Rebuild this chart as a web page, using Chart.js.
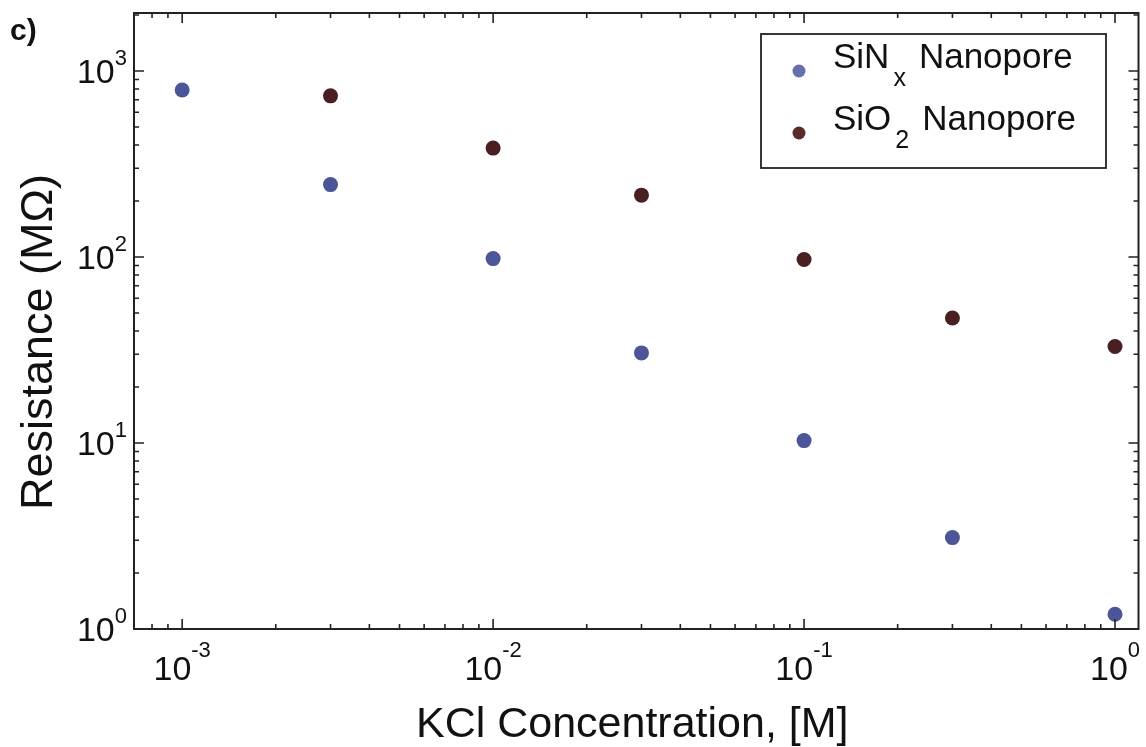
<!DOCTYPE html>
<html>
<head>
<meta charset="utf-8">
<script src="https://cdn.jsdelivr.net/npm/chart.js@4.4.0/dist/chart.umd.min.js"></script>
<style>
  body { margin: 0; background: #fff; }
  #wrap { width: 1146px; height: 747px; }
</style>
</head>
<body>
<div id="wrap"><canvas id="myChart"></canvas></div>
<script>
// KCl concentration [M] and resistance [MOhm]
const sinxConc = [0.001, 0.003, 0.01, 0.03, 0.1, 0.3, 1];
const sinxResistance = [790, 245, 98, 30.5, 10.3, 3.1, 1.2];
const sio2Conc = [0.003, 0.01, 0.03, 0.1, 0.3, 1];
const sio2Resistance = [735, 385, 215, 97, 47, 33];

const xTickValues = [0.001, 0.01, 0.1, 1];
const xTickExps = ["-3", "-2", "-1", "0"];
const yTickValues = [1, 10, 100, 1000];
const yTickExps = ["0", "1", "2", "3"];

const seriesNames = [["SiN", "x", "Nanopore"], ["SiO", "2", "Nanopore"]];
const seriesColors = ["#4b5598", "#4a1f22"];
const legendColors = ["#6770aa", "#5a2b2b"];

const FONT = '"Liberation Sans", Arial, Helvetica, sans-serif';
const INK = "#111";

function toPoints(xs, ys) {
    return xs.map((x, i) => ({ x: x, y: ys[i] }));
}

const boxAxes = {
    id: "boxAxes",
    afterDatasetsDraw(chart) {
        const ctx = chart.ctx;
        const area = chart.chartArea;
        const xs = chart.scales.x;
        const ys = chart.scales.y;

        ctx.save();
        ctx.strokeStyle = "#222";
        ctx.lineWidth = 2;
        ctx.strokeRect(area.left, area.top, area.right - area.left, area.bottom - area.top);

        // inward log ticks on all four sides
        ctx.lineWidth = 1.6;
        ctx.beginPath();
        for (let k = -4; k <= 3; k++) {
            for (let m = 1; m <= 9; m++) {
                const v = m * Math.pow(10, k);
                const len = m === 1 ? 10 : 5;
                if (v > xs.min * 1.001 && v < xs.max * 0.999) {
                    const px = xs.getPixelForValue(v);
                    ctx.moveTo(px, area.bottom); ctx.lineTo(px, area.bottom - len);
                    ctx.moveTo(px, area.top); ctx.lineTo(px, area.top + len);
                }
                if (v > ys.min * 1.001 && v < ys.max * 0.999) {
                    const py = ys.getPixelForValue(v);
                    ctx.moveTo(area.left, py); ctx.lineTo(area.left + len, py);
                    ctx.moveTo(area.right, py); ctx.lineTo(area.right - len, py);
                }
            }
        }
        ctx.stroke();

        // tick labels: 10 with superscript exponent
        ctx.fillStyle = INK;
        ctx.textBaseline = "alphabetic";
        ctx.textAlign = "left";
        for (let i = 0; i < xTickValues.length; i++) {
            const px = xs.getPixelForValue(xTickValues[i]);
            ctx.font = "34px " + FONT;
            const wBase = ctx.measureText("10").width;
            ctx.font = "22px " + FONT;
            const wExp = ctx.measureText(xTickExps[i]).width;
            const start = px - (wBase + wExp) / 2;
            ctx.font = "34px " + FONT;
            ctx.fillText("10", start, area.bottom + 51);
            ctx.font = "22px " + FONT;
            ctx.fillText(xTickExps[i], start + wBase, area.bottom + 28);
        }
        for (let i = 0; i < yTickValues.length; i++) {
            const py = ys.getPixelForValue(yTickValues[i]);
            ctx.font = "22px " + FONT;
            const wExp = ctx.measureText(yTickExps[i]).width;
            const expX = area.left - 7 - wExp;
            ctx.fillText(yTickExps[i], expX, py - 6);
            ctx.font = "34px " + FONT;
            const wBase = ctx.measureText("10").width;
            ctx.fillText("10", expX - wBase, py + 12);
        }

        // axis titles
        ctx.font = "43px " + FONT;
        ctx.textAlign = "center";
        ctx.fillText("KCl Concentration, [M]", (area.left + area.right) / 2 - 4, 737);
        ctx.save();
        ctx.translate(52, 342);
        ctx.rotate(-Math.PI / 2);
        ctx.font = "45px " + FONT;
        ctx.fillText("Resistance (MΩ)", 0, 0);
        ctx.restore();

        // panel label
        ctx.textAlign = "left";
        ctx.font = "bold 30px " + FONT;
        ctx.fillText("c)", 10, 40);

        // legend
        const lx = 761, ly = 34, lw = 345, lh = 134;
        ctx.fillStyle = "#fff";
        ctx.fillRect(lx, ly, lw, lh);
        ctx.strokeStyle = "#222";
        ctx.lineWidth = 1.8;
        ctx.strokeRect(lx, ly, lw, lh);
        const rowBase = [68, 130];
        for (let i = 0; i < seriesNames.length; i++) {
            const b = rowBase[i];
            ctx.fillStyle = legendColors[i];
            ctx.beginPath();
            ctx.arc(799, b + 3, 6.5, 0, Math.PI * 2);
            ctx.fill();
            ctx.fillStyle = INK;
            ctx.font = "35px " + FONT;
            let tx = 833;
            ctx.fillText(seriesNames[i][0], tx, b);
            tx += ctx.measureText(seriesNames[i][0]).width + 4;
            ctx.font = "25px " + FONT;
            ctx.fillText(seriesNames[i][1], tx, b + 18);
            tx += ctx.measureText(seriesNames[i][1]).width + 13;
            ctx.font = "35px " + FONT;
            ctx.fillText(seriesNames[i][2], tx, b);
        }
        ctx.restore();
    }
};

const ctx = document.getElementById("myChart").getContext("2d");

window.myChart = new Chart(ctx, {
    type: "scatter",
    data: {
        datasets: [{
            label: "SiNx Nanopore",
            data: toPoints(sinxConc, sinxResistance),
            backgroundColor: seriesColors[0],
            borderWidth: 0,
            pointRadius: 7.5,
            pointHoverRadius: 7.5,
            clip: false
        }, {
            label: "SiO2 Nanopore",
            data: toPoints(sio2Conc, sio2Resistance),
            backgroundColor: seriesColors[1],
            borderWidth: 0,
            pointRadius: 7.5,
            pointHoverRadius: 7.5,
            clip: false
        }]
    },
    options: {
        responsive: true,
        maintainAspectRatio: false,
        animation: false,
        events: [],
        layout: {
            padding: { left: 134, top: 13, right: 7, bottom: 118 }
        },
        plugins: {
            legend: { display: false },
            tooltip: { enabled: false }
        },
        scales: {
            x: {
                type: "logarithmic",
                min: 0.0007,
                max: 1.19,
                bounds: "data",
                display: false
            },
            y: {
                type: "logarithmic",
                min: 1,
                max: 2050,
                bounds: "data",
                display: false
            }
        }
    },
    plugins: [boxAxes]
});
</script>
</body>
</html>
